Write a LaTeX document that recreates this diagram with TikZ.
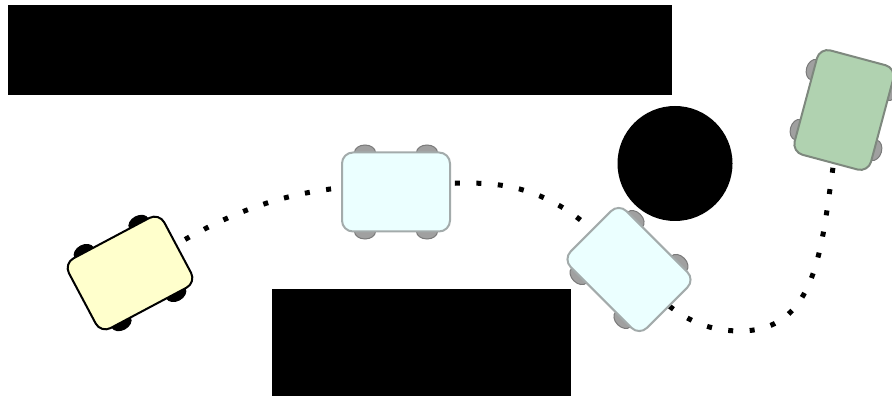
\documentclass[tikz,border=0pt]{standalone}
\usepackage{tikz}
\usetikzlibrary{calc}
\definecolor{CarYellow}{HTML}{FFFFCC}
\definecolor{CarCyan}{HTML}{EBFFFF}
\definecolor{CarCyanLine}{HTML}{A3ABAB}
\definecolor{CarGreen}{HTML}{B0D2B0}
\definecolor{CarGreenLine}{HTML}{7E887E}
\definecolor{WheelGrey}{HTML}{A0A0A0}
\definecolor{WheelEdge}{HTML}{7A7A7A}

\newcommand{\robotcar}[7]{%
\begin{scope}[shift={(#2)},rotate=#3]
  \foreach \wx in {-31,31} {
    \foreach \wy in {-39.5,39.5} {
      \filldraw[fill=#6, draw=#7, line width=1pt] (\wx,\wy) ellipse (10.5 and 7.5);
    }
  }
  \filldraw[fill=#4, draw=#5, line width=2pt, rounded corners=11pt] (-54,-39.5) rectangle (54,39.5);
  \coordinate (#1) at (0,0);
\end{scope}}

\begin{document}
\begin{tikzpicture}[x=1pt,y=1pt, trail/.style={line width=5pt, dash pattern=on 5pt off 16.5pt}]
\useasboundingbox (0,0) rectangle (892,396);
\fill[black] (8,301) rectangle (672,391);
\fill[black] (272,0) rectangle (571,107);
\fill[black] (675,232.5) circle (57.5);
\coordinate (yellowpos) at (130,123);
\coordinate (middlepos) at (396,204);
\coordinate (pass1) at (396,211);
\coordinate (bend1) at (560,190);
\coordinate (cyanpos) at (629,126.5);
\coordinate (dip) at (740,65);
\coordinate (greenpos) at (844,286);
\draw[trail] (yellowpos) to[out=33,in=180] (pass1) to[out=0,in=150] (bend1)
  to[out=-30,in=136] (cyanpos) to[out=-44,in=180] (dip) to[out=0,in=255] (greenpos);
\robotcar{car1}{yellowpos}{28}{CarYellow}{black}{black}{black}
\robotcar{car2}{middlepos}{0}{CarCyan}{CarCyanLine}{WheelGrey}{WheelEdge}
\robotcar{car3}{cyanpos}{-45}{CarCyan}{CarCyanLine}{WheelGrey}{WheelEdge}
\robotcar{car4}{greenpos}{75}{CarGreen}{CarGreenLine}{WheelGrey}{WheelEdge}
\end{tikzpicture}
\end{document}
